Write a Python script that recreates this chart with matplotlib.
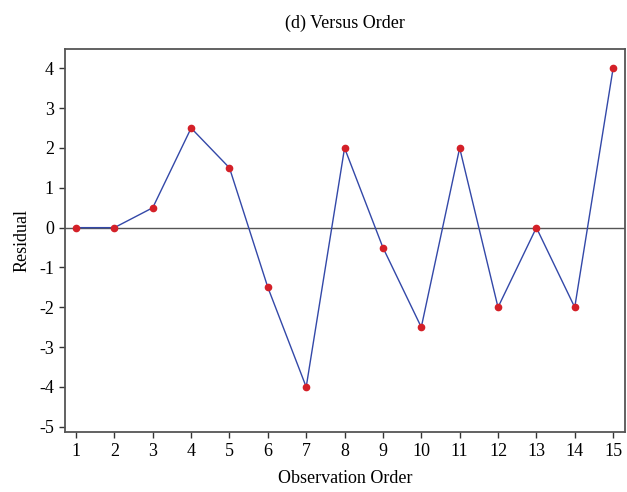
import matplotlib
matplotlib.use('Agg')
import matplotlib.pyplot as plt

order = list(range(1, 16))
residual = [0, 0, 0.5, 2.5, 1.5, -1.5, -4, 2, -0.5, -2.5, 2, -2, 0, -2, 4]

plt.rcParams['font.family'] = 'Liberation Serif'
plt.rcParams['axes.unicode_minus'] = False

fig = plt.figure(figsize=(6.27, 4.92), dpi=100)
ax = fig.add_axes([0.1037, 0.122, 0.8931, 0.7784])

ax.axhline(0, color='#555555', lw=1, zorder=1)
ax.plot(order, residual, color='#3348a8', lw=1, zorder=2)
ax.plot(order, residual, 'o', color='#d42028', ms=4.5, zorder=3)

ax.set_xlim(0.713, 15.31)
ax.set_ylim(-5.13, 4.485)
ax.set_xticks(order)
ax.set_yticks(range(-5, 5))

for s in ax.spines.values():
    s.set_color('#555555')
    s.set_linewidth(1.3)
ax.tick_params(direction='out', length=4, width=1, color='#333333', labelsize=13, pad=4)

ax.set_title('(d) Versus Order', fontsize=13, pad=15)
ax.set_xlabel('Observation Order', fontsize=13, labelpad=7)
ax.set_ylabel('Residual', fontsize=13, labelpad=6)

fig.savefig('out.png', dpi=100)
